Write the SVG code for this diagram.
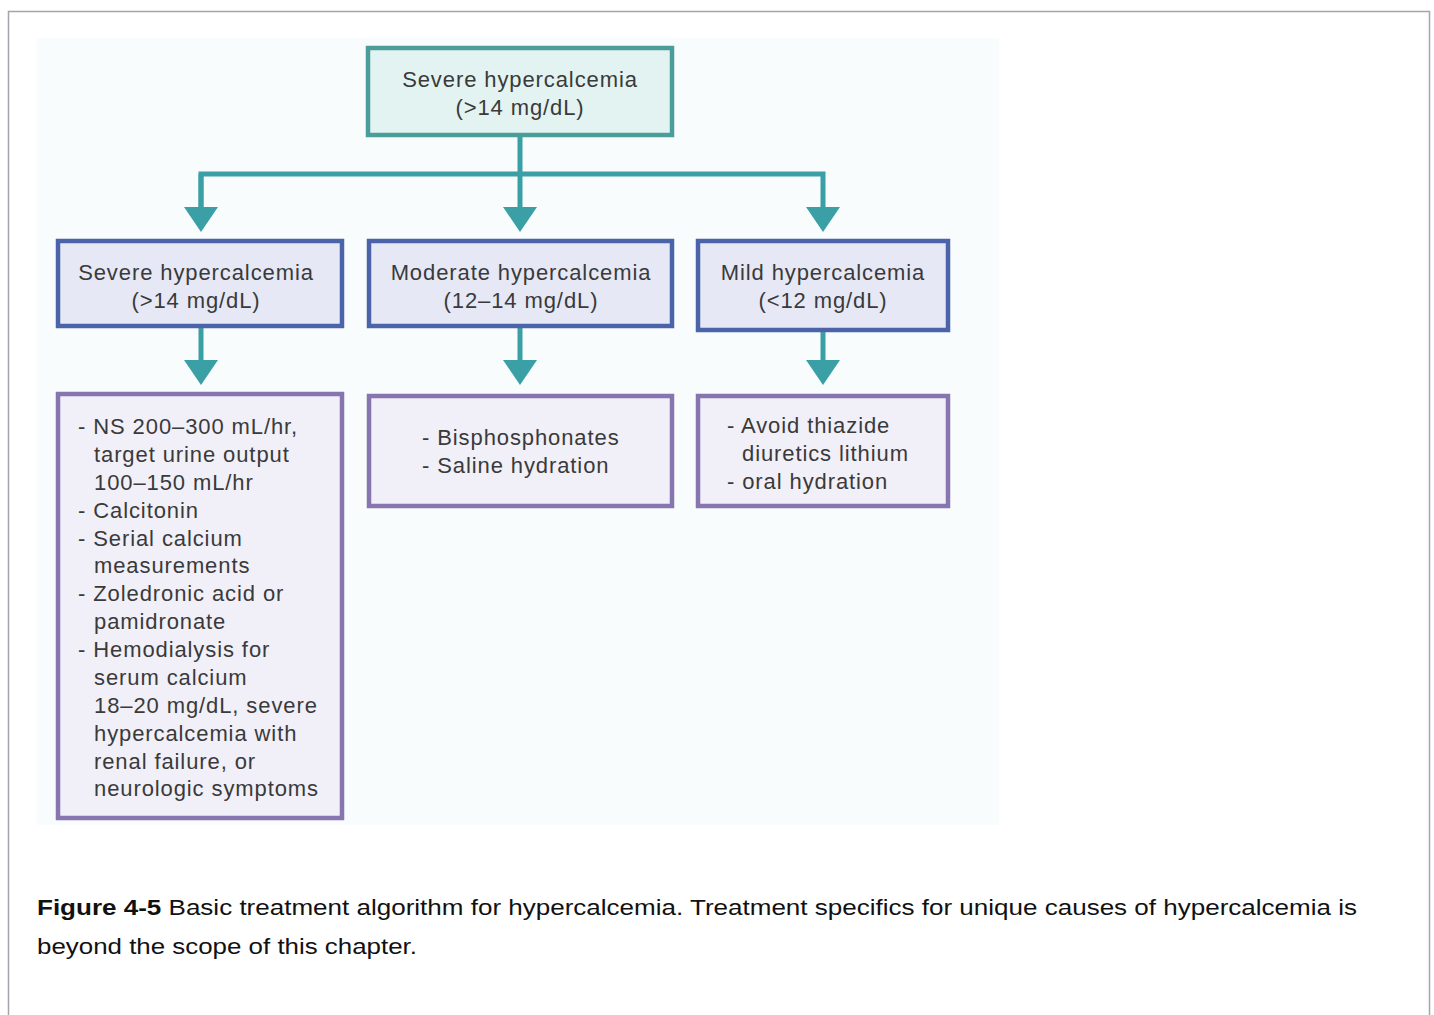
<svg xmlns="http://www.w3.org/2000/svg" width="1434" height="1015" viewBox="0 0 1434 1015">
  <style>
    .lbl { font-family: "Liberation Sans", Arial, sans-serif; font-size: 22px; fill: #3a3a3a; letter-spacing: 0.9px; }
    .mid { text-anchor: middle; }
    .top { fill: #e2f3f2; stroke: #4a9d98; stroke-width: 4.5; }
    .lvl { fill: #e6e8f6; stroke: #4b63a8; stroke-width: 4.5; }
    .tx  { fill: #f1eff8; stroke: #8775b0; stroke-width: 4.5; }
    .wire { fill: none; stroke: #3aa0a6; stroke-width: 5; }
    .cap { font-family: "Liberation Sans", Arial, sans-serif; font-size: 22px; fill: #111; }
  </style>
  <defs>
    <marker id="arrow" markerUnits="userSpaceOnUse" viewBox="0 -17 25 34" refX="0" refY="0" markerWidth="25" markerHeight="34" orient="auto">
      <path d="M0,-17 L25,0 L0,17 Z" fill="#3aa0a6"/>
    </marker>
  </defs>

  <!-- page frame and figure panel -->
  <rect x="8.5" y="11.5" width="1421" height="1020" fill="#ffffff" stroke="#a4a4ae" stroke-width="1.5"/>
  <rect x="37" y="38" width="962" height="787" fill="#f8fcfc"/>

  <!-- connectors -->
  <g id="connectors">
    <path class="wire" d="M520,135 V207" marker-end="url(#arrow)"/>
    <path class="wire" d="M201,207 V174 H823 V207" marker-end="url(#arrow)"/>
    <path class="wire" d="M201,174 V207" marker-end="url(#arrow)"/>
    <path class="wire" d="M201,326 V360" marker-end="url(#arrow)"/>
    <path class="wire" d="M520,326 V360" marker-end="url(#arrow)"/>
    <path class="wire" d="M823,330 V360" marker-end="url(#arrow)"/>
  </g>

  <!-- root -->
  <g id="root">
    <rect class="top" x="368" y="48" width="304" height="87"/>
    <text class="lbl mid" x="520" y="87">Severe hypercalcemia</text>
    <text class="lbl mid" x="520" y="115">(&gt;14 mg/dL)</text>
  </g>

  <!-- severity levels -->
  <g id="severe">
    <rect class="lvl" x="58" y="241" width="284" height="85"/>
    <text class="lbl mid" x="196" y="280">Severe hypercalcemia</text>
    <text class="lbl mid" x="196" y="308">(&gt;14 mg/dL)</text>
  </g>
  <g id="moderate">
    <rect class="lvl" x="369" y="241" width="303" height="85"/>
    <text class="lbl mid" x="521" y="280">Moderate hypercalcemia</text>
    <text class="lbl mid" x="521" y="308">(12–14 mg/dL)</text>
  </g>
  <g id="mild">
    <rect class="lvl" x="698" y="241" width="250" height="89"/>
    <text class="lbl mid" x="823" y="280">Mild hypercalcemia</text>
    <text class="lbl mid" x="823" y="308">(&lt;12 mg/dL)</text>
  </g>

  <!-- treatments -->
  <g id="severe-tx">
    <rect class="tx" x="58" y="394" width="284" height="424"/>
    <text class="lbl">
      <tspan x="78" y="434">- NS 200–300 mL/hr,</tspan>
      <tspan x="94" y="462">target urine output</tspan>
      <tspan x="94" y="490">100–150 mL/hr</tspan>
      <tspan x="78" y="518">- Calcitonin</tspan>
      <tspan x="78" y="546">- Serial calcium</tspan>
      <tspan x="94" y="573">measurements</tspan>
      <tspan x="78" y="601">- Zoledronic acid or</tspan>
      <tspan x="94" y="629">pamidronate</tspan>
      <tspan x="78" y="657">- Hemodialysis for</tspan>
      <tspan x="94" y="685">serum calcium</tspan>
      <tspan x="94" y="713">18–20 mg/dL, severe</tspan>
      <tspan x="94" y="741">hypercalcemia with</tspan>
      <tspan x="94" y="769">renal failure, or</tspan>
      <tspan x="94" y="796">neurologic symptoms</tspan>
    </text>
  </g>
  <g id="moderate-tx">
    <rect class="tx" x="369" y="396" width="303" height="110"/>
    <text class="lbl">
      <tspan x="422" y="445">- Bisphosphonates</tspan>
      <tspan x="422" y="473">- Saline hydration</tspan>
    </text>
  </g>
  <g id="mild-tx">
    <rect class="tx" x="698" y="396" width="250" height="110"/>
    <text class="lbl">
      <tspan x="727" y="433">- Avoid thiazide</tspan>
      <tspan x="742" y="461">diuretics lithium</tspan>
      <tspan x="727" y="489">- oral hydration</tspan>
    </text>
  </g>

  <!-- caption -->
  <text class="cap" x="37" y="915" textLength="1320" lengthAdjust="spacingAndGlyphs"><tspan font-weight="bold">Figure 4-5</tspan> Basic treatment algorithm for hypercalcemia. Treatment specifics for unique causes of hypercalcemia is</text>
  <text class="cap" x="37" y="954" textLength="380" lengthAdjust="spacingAndGlyphs">beyond the scope of this chapter.</text>
</svg>
